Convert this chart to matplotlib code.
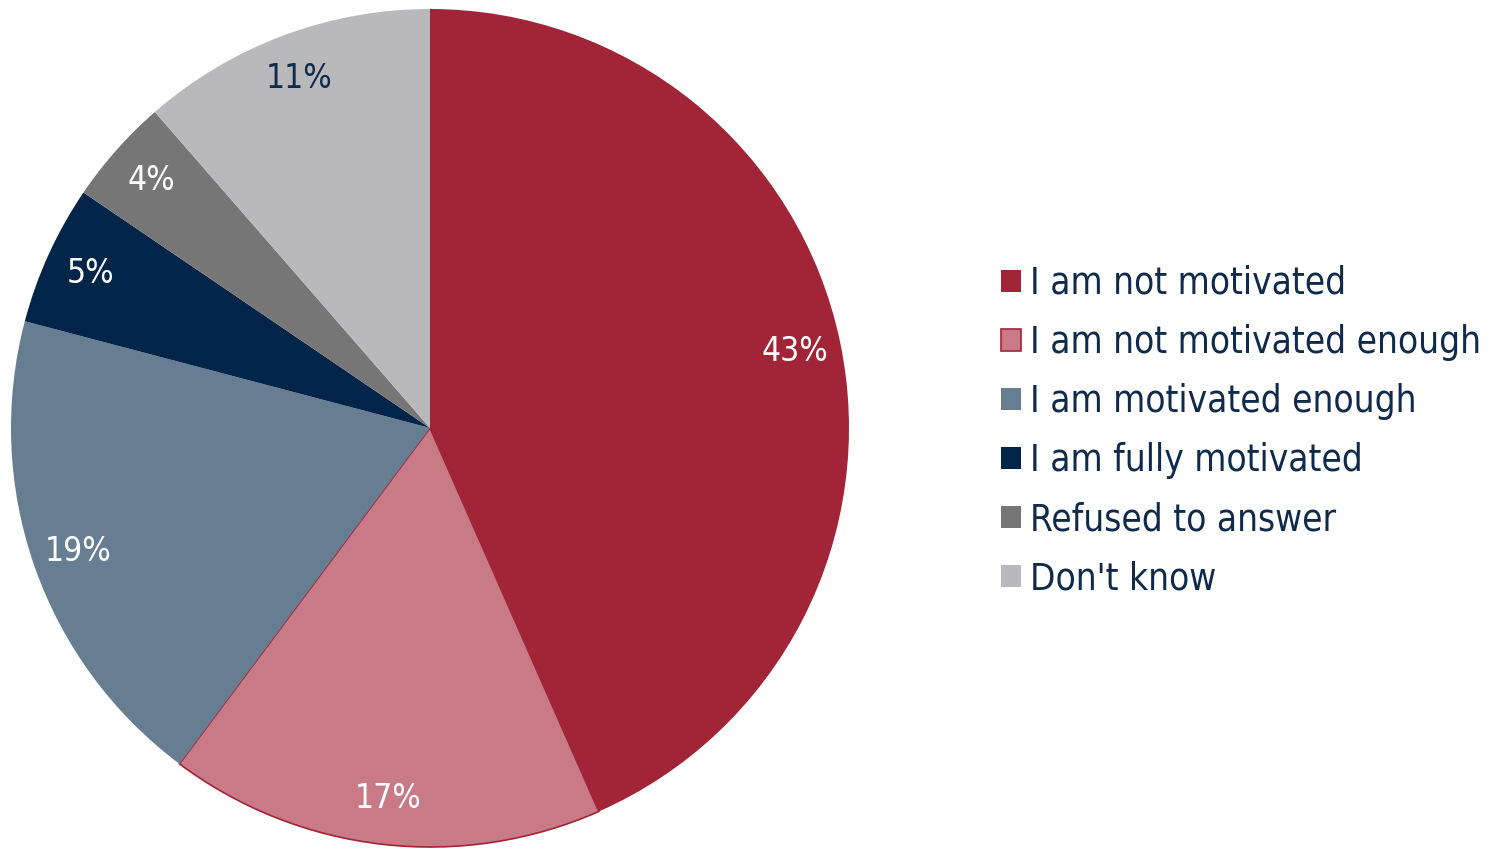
import matplotlib
matplotlib.use("Agg")
import matplotlib.pyplot as plt

categories = ["I am not motivated", "I am not motivated enough", "I am motivated enough",
              "I am fully motivated", "Refused to answer", "Don't know"]
shares = [43.4, 16.8, 18.9, 5.4, 4.1, 11.4]
colors = ["#A12437", "#C87B87", "#667D92", "#002548", "#767676", "#B9B9BB"]
label_colors = ["white", "white", "white", "white", "white", "#0F2A4A"]

plt.rcParams['font.family'] = ['DejaVu Sans']
plt.rcParams['font.stretch'] = 'condensed'

W, H = 1498, 848
fig = plt.figure(figsize=(W / 100, H / 100), dpi=100)
# pie centre ~ (430, 428) px, radius ~ 419 px
ax = fig.add_axes([(430 - 419) / W, (H - 428 - 419) / H, 838 / W, 838 / H])

wedges, texts, autotexts = ax.pie(
    shares, colors=colors, startangle=90, counterclock=False,
    autopct='%.0f%%', pctdistance=0.89, radius=1,
    wedgeprops=dict(linewidth=0))
wedges[1].set_edgecolor("#A12437")
wedges[1].set_linewidth(1.2)

for t, c in zip(autotexts, label_colors):
    t.set_color(c)
    t.set_fontsize(24)

ax.set_xlim(-1, 1)
ax.set_ylim(-1, 1)
ax.set_aspect('equal')
ax.axis('off')

leg = fig.legend(wedges, categories, loc='center left',
                 bbox_to_anchor=(1001 / W, 1 - 431 / H),
                 frameon=False, fontsize=26.5, labelcolor="#0F2A4A",
                 handlelength=0.55, handleheight=0.55, handletextpad=0.25,
                 labelspacing=0.6, borderpad=0, borderaxespad=0)

fig.savefig("out.png", dpi=100)
